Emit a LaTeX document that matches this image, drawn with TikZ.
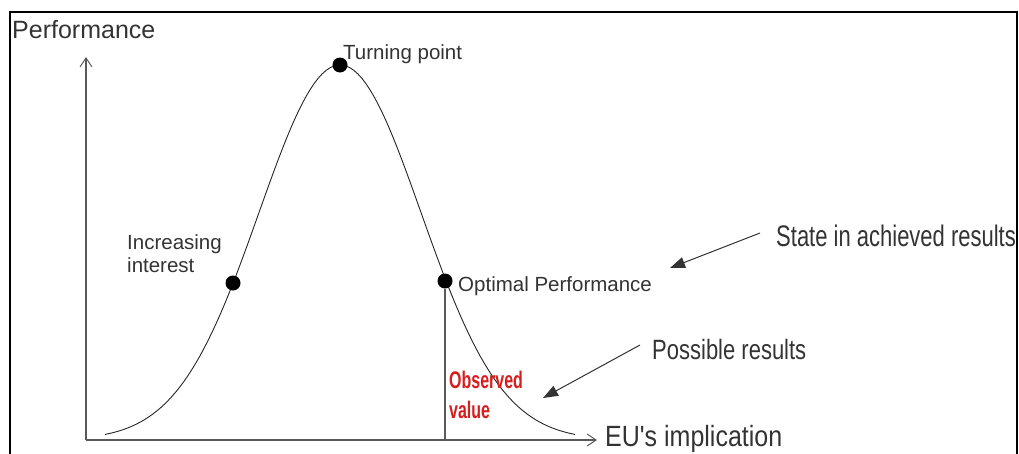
\documentclass[tikz,border=0pt]{standalone}
\usepackage{fontspec}
\setmainfont{Liberation Sans}
\usetikzlibrary{arrows.meta}
\begin{document}
\begin{tikzpicture}[x=1pt, y=-1pt,
    axis/.style={draw=black!65, line width=1.2pt, -{Straight Barb[length=9pt,width=12pt,line width=1pt]}},
    dot/.style={circle, fill=black, inner sep=0pt, minimum size=15pt},
    small/.style={inner sep=0pt, anchor=west, text=black!80, font=\fontsize{20.5}{23}\selectfont},
    big/.style={inner sep=0pt, anchor=west, text=black!80, font=\fontsize{25}{30}\selectfont},
    pointer/.style={draw=black!80, line width=1pt, -{Triangle[length=15pt,width=11pt]}}]
\useasboundingbox (0,0) rectangle (1019,453);
% frame
\draw[line width=2pt] (10,460) -- (10,12) -- (1017,12) -- (1017,460);
% axes
\coordinate (O) at (86,440);
\coordinate (ytop) at (86,57);
\coordinate (xend) at (597,440);
\draw[axis] (O) -- (ytop);
\draw[axis] (O) -- (xend);
\node[big] (perf) at (12,30) {Performance};
\node[big] (eu) at (605,439) {\scalebox{1}[1.17]{EU\textquotesingle s implication}};
% bell curve
\draw[black!85, line width=0.9pt, domain=105:575, samples=120]
    plot (\x, {440-375*exp(-((\x-340)/81)*((\x-340)/81)/2)});
\node[dot] (turn) at (340,65) {};
\node[dot] (incr) at (233,283) {};
\node[dot] (opt) at (445,281) {};
\draw[black!65, line width=1.2pt] (opt) -- (opt |- O);
\node[small] at (343,54) {Turning point};
\node[small, align=left] at (127,254) {Increasing\\interest};
\node[small] at (458,286) {Optimal Performance};
\node[inner sep=0pt, anchor=west, align=left, text={rgb,255:red,215;green,30;blue,30},
    font=\bfseries\fontsize{16}{30}\selectfont] (obs) at (449,395)
    {\scalebox{1}[1.5]{Observed}\\\scalebox{1}[1.5]{value}};
% side notes
\node[big, font=\fontsize{22}{26}\selectfont] (state) at (776,236) {\scalebox{1}[1.35]{State in achieved results}};
\node[big, font=\fontsize{22}{26}\selectfont] (poss) at (652,350) {\scalebox{1}[1.27]{Possible results}};
\coordinate (stateTip) at (670,268);
\coordinate (possTip) at (543,398);
\draw[pointer] ([shift={(-16,-3)}]state.west) -- (stateTip);
\draw[pointer] ([shift={(-12,-5)}]poss.west) -- (possTip);
\end{tikzpicture}
\end{document}
